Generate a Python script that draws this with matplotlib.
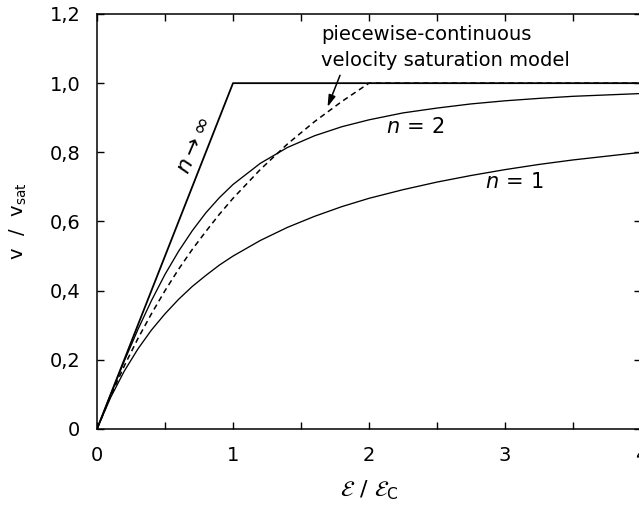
import matplotlib
matplotlib.use("Agg")
import matplotlib.pyplot as plt
from matplotlib.ticker import MultipleLocator

plt.rcParams["font.family"] = "DejaVu Sans"
plt.rcParams["mathtext.fontset"] = "dejavusans"
plt.rcParams["font.size"] = 14

# normalised field E/Ec
x = [0, 0.1, 0.2, 0.3, 0.4, 0.5, 0.6, 0.7, 0.8, 0.9, 1.0, 1.2, 1.4, 1.6,
     1.8, 2.0, 2.25, 2.5, 2.75, 3.0, 3.25, 3.5, 3.75, 4.0]

# v/vsat for n = 1
v_n1 = [0, 0.091, 0.167, 0.231, 0.286, 0.333, 0.375, 0.412, 0.444, 0.474,
        0.500, 0.545, 0.583, 0.615, 0.643, 0.667, 0.692, 0.714, 0.733,
        0.750, 0.765, 0.778, 0.789, 0.800]

# v/vsat for n = 2
v_n2 = [0, 0.0995, 0.196, 0.287, 0.371, 0.447, 0.514, 0.573, 0.625, 0.669,
        0.707, 0.768, 0.814, 0.848, 0.874, 0.894, 0.914, 0.928, 0.940,
        0.949, 0.956, 0.962, 0.966, 0.970]

# n -> infinity limit
x_inf = [0, 1, 4]
v_inf = [0, 1, 1]

# piecewise-continuous model
x_pw = [0, 0.1, 0.2, 0.3, 0.4, 0.5, 0.6, 0.7, 0.8, 0.9, 1.0, 1.2, 1.4, 1.6,
        1.8, 2.0, 4.0]
v_pw = [0, 0.095, 0.182, 0.261, 0.333, 0.400, 0.462, 0.519, 0.571, 0.621,
        0.667, 0.750, 0.824, 0.889, 0.947, 1.000, 1.000]

xticks = [0, 1, 2, 3, 4]
yticks = [0, 0.2, 0.4, 0.6, 0.8, 1.0, 1.2]
ytick_labels = ["0", "0,2", "0,4", "0,6", "0,8", "1,0", "1,2"]

fig = plt.figure(figsize=(6.39, 5.09), dpi=100)
# right edge of the frame sits just past the figure border
ax = fig.add_axes([97 / 639, 80 / 509, 544 / 639, 415 / 509])

ax.plot(x, v_n1, color="black", lw=0.95)
ax.plot(x, v_n2, color="black", lw=0.95)
ax.plot(x_inf, v_inf, color="black", lw=1.3)
ax.plot(x_pw, v_pw, color="black", lw=1.1, dashes=(3.6, 2.6))

ax.set_xlim(0, 4)
ax.set_ylim(0, 1.2)
ax.set_xticks(xticks)
ax.set_xticklabels([str(t) for t in xticks])
ax.xaxis.set_minor_locator(MultipleLocator(0.5))
ax.set_yticks(yticks)
ax.set_yticklabels(ytick_labels)

ax.tick_params(which="both", direction="in", top=True, right=True,
               width=1.0, length=5, labelsize=14)
ax.tick_params(axis="x", pad=12)
ax.tick_params(axis="y", pad=12)
for s in ax.spines.values():
    s.set_linewidth(1.1)

ax.set_xlabel(r"$\mathcal{E}\ /\ \mathcal{E}_\mathrm{C}$", fontsize=16, labelpad=10)
ax.set_ylabel(r"$\mathregular{v\ \ /\ \ v_{sat}}$", fontsize=14, labelpad=15)

ax.text(0.713, 0.821, r"$n\rightarrow\infty$", rotation=67,
        ha="center", va="center", fontsize=16)
ax.text(2.34, 0.873, r"$n\,=\,2$", ha="center", va="center", fontsize=15)
ax.text(3.07, 0.714, r"$n\,=\,1$", ha="center", va="center", fontsize=15)

ax.annotate("piecewise-continuous\nvelocity saturation model",
            xy=(1.695, 0.931), xytext=(1.647, 1.103),
            ha="left", va="center", linespacing=1.45, fontsize=14,
            arrowprops=dict(arrowstyle="-|>,head_length=0.5,head_width=0.15",
                            color="black", lw=1.1, shrinkA=2, shrinkB=0,
                            relpos=(0.085, 0.0)))

fig.savefig("out.png", dpi=100)
